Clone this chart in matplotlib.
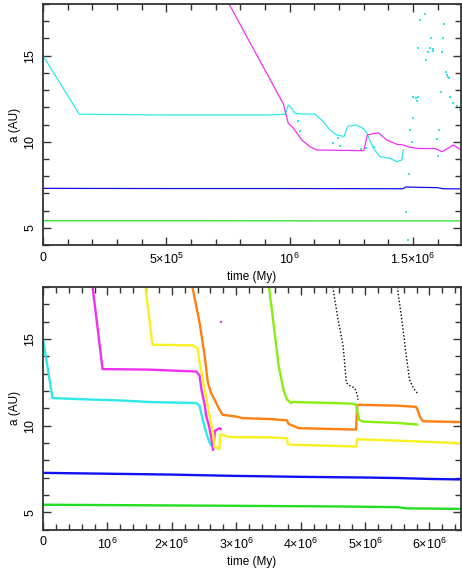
import numpy as np
import matplotlib
matplotlib.use("Agg")
import matplotlib.pyplot as plt
from matplotlib.ticker import MultipleLocator

plt.rcParams['font.family'] = ['Liberation Sans', 'DejaVu Sans']
plt.rcParams['mathtext.fontset'] = 'custom'
plt.rcParams['mathtext.rm'] = 'Liberation Sans'
plt.rcParams['mathtext.default'] = 'regular'

# times in units of 1e6, a in AU
# --- top panel ---
top_green_t = [0.0, 0.6, 1.2, 1.69]
top_green_a = [5.41, 5.41, 5.40, 5.40]

top_blue_t = [0.0, 0.5, 1.0, 1.46, 1.47, 1.52, 1.60, 1.62, 1.69]
top_blue_a = [7.29, 7.28, 7.28, 7.27, 7.37, 7.35, 7.33, 7.27, 7.26]

top_cyan_t = [0.0, 0.147, 0.5, 0.92, 0.981, 0.994, 1.005, 1.021, 1.049, 1.103, 1.136,
              1.163, 1.19, 1.22, 1.235, 1.27, 1.30, 1.312, 1.339, 1.366, 1.407, 1.434,
              1.454, 1.46]
top_cyan_a = [15.0, 11.6, 11.55, 11.55, 11.6, 12.13, 12.0, 11.65, 11.61, 11.6, 11.16,
              10.68, 10.39, 10.3, 10.9, 10.97, 10.75, 10.5, 9.61, 9.13, 9.03, 8.84,
              8.94, 9.52]

top_cyan_dots_t = [1.548, 1.528, 1.627, 1.573, 1.623, 1.521, 1.569, 1.580, 1.559, 1.582,
                   1.616, 1.553, 1.632, 1.639, 1.643, 1.647, 1.612, 1.501, 1.517, 1.650,
                   1.661, 1.677, 1.690, 1.501, 1.488, 1.606, 1.596, 1.494, 1.602, 1.484,
                   1.471, 1.478, 1.511, 1.520, 1.175, 1.195, 1.205, 1.29, 1.31, 1.34,
                   1.035, 1.040]
top_cyan_dots_a = [17.40, 17.07, 16.84, 16.04, 16.0, 15.43, 15.43, 15.39, 15.23, 15.29,
                   15.23, 14.75, 14.07, 13.87, 13.78, 13.68, 12.9, 12.61, 12.38, 12.61,
                   12.23, 12.07, 11.84, 11.36, 10.68, 10.68, 10.14, 10.0, 9.17, 8.12,
                   5.93, 4.29, 12.52, 12.61, 9.95, 10.2, 9.75, 9.6, 9.62, 9.7,
                   11.2, 10.6]

top_mag_t = [0.754, 0.974, 0.994, 1.015, 1.049, 1.082, 1.109, 1.2, 1.3, 1.315, 1.359,
             1.393, 1.434, 1.46, 1.488, 1.52, 1.59, 1.616, 1.64, 1.663, 1.69]
top_mag_a = [18.0, 12.2, 11.07, 10.78, 10.1, 9.71, 9.52, 9.5, 9.48, 10.4, 10.52,
             10.1, 9.85, 9.81, 9.67, 9.61, 9.6, 9.42, 9.6, 9.81, 9.56]

# --- bottom panel ---
bot_green_t = [0.0, 2.9, 4.6, 5.5, 5.65, 6.49]
bot_green_a = [5.43, 5.37, 5.33, 5.29, 5.22, 5.19]

bot_blue_t = [0.0, 1.0, 2.0, 2.9, 4.0, 5.0, 5.5, 6.0, 6.49]
bot_blue_a = [7.27, 7.22, 7.17, 7.10, 7.04, 7.0, 6.97, 6.92, 6.89]

bot_cyan_t = [0.0, 0.148, 0.6, 1.2, 1.65, 2.38, 2.43, 2.48, 2.53, 2.58, 2.61]
bot_cyan_a = [15.0, 11.59, 11.52, 11.45, 11.36, 11.3, 11.15, 10.33, 9.65, 9.07, 8.88]

bot_mag_t = [0.77, 0.925, 1.2, 1.65, 2.38, 2.43, 2.46, 2.51, 2.53, 2.58, 2.61, 2.64,
             2.67, 2.74, 2.76]
bot_mag_a = [18.0, 13.26, 13.25, 13.23, 13.12, 12.9, 12.08, 11.2, 10.62, 9.94, 9.36,
             8.59, 9.7, 9.85, 9.8]
bot_mag_dot_t = [2.77]
bot_mag_dot_a = [15.97]

bot_yel_t = [1.59, 1.70, 2.33, 2.40, 2.43, 2.48, 2.53, 2.58, 2.61, 2.64, 2.66, 2.71,
             2.74, 2.75, 2.9, 3.52, 3.79, 3.80, 3.83, 4.86, 4.88, 5.5, 6.49]
bot_yel_a = [18.0, 14.67, 14.63, 14.44, 13.67, 12.7, 11.69, 10.72, 10.14, 9.56, 8.78,
             8.69, 8.65, 9.5, 9.33, 9.32, 9.27, 8.94, 8.9, 8.79, 9.21, 9.13, 8.98]

bot_orange_t = [2.32, 2.43, 2.51, 2.56, 2.61, 2.69, 2.74, 2.79, 3.0, 3.1, 3.52, 3.79,
                3.81, 3.97, 4.86, 4.88, 5.5, 5.79, 5.81, 5.85, 5.9, 6.49]
bot_orange_a = [18.0, 15.97, 14.03, 12.47, 11.88, 11.3, 10.91, 10.62, 10.52, 10.43,
                10.38, 10.3, 10.1, 9.85, 9.77, 11.2, 11.15, 11.08, 10.95, 10.52,
                10.25, 10.2]

bot_lime_t = [3.51, 3.59, 3.66, 3.74, 3.79, 3.85, 3.88, 4.5, 4.81, 4.86, 4.88, 4.91,
              4.97, 5.5, 5.81]
bot_lime_a = [18.0, 15.56, 13.43, 11.98, 11.5, 11.3, 11.36, 11.3, 11.26, 11.2, 10.81,
              10.33, 10.23, 10.15, 10.06]

bot_black1_t = [4.5, 4.58, 4.66, 4.71, 4.76, 4.84, 4.88, 4.89]
bot_black1_a = [18.0, 16.14, 14.59, 12.47, 12.31, 12.17, 11.78, 11.49]
bot_black2_t = [5.5, 5.57, 5.64, 5.69, 5.75, 5.81]
bot_black2_a = [18.0, 16.14, 14.03, 12.65, 12.17, 11.88]

top_xticks = [0, 5e5, 1e6, 1.5e6]
top_xlabels = ['0', '5×10$^5$', '10$^6$', '1.5×10$^6$']
bot_xticks = [0, 1e6, 2e6, 3e6, 4e6, 5e6, 6e6]
bot_xlabels = ['0', '10$^6$', '2×10$^6$', '3×10$^6$', '4×10$^6$', '5×10$^6$', '6×10$^6$']
yticks = [5, 10, 15]

C_GREEN = '#22dd22'
C_BLUE = '#1010f0'
C_CYAN = '#30e8e8'
C_MAG = '#f030f0'
C_YEL = '#f8f020'
C_ORANGE = '#ff8010'
C_LIME = '#88ee10'

fig = plt.figure(figsize=(4.62, 5.74), dpi=100)
ax1 = fig.add_axes([43/462, 1-245/574, 418/462, 241/574])
ax2 = fig.add_axes([43/462, 1-529.5/574, 418/462, 242.5/574])

def T(t):
    return np.array(t) * 1e6

lw1 = 0.9
ax1.plot(T(top_green_t), top_green_a, color=C_GREEN, lw=lw1)
ax1.plot(T(top_blue_t), top_blue_a, color=C_BLUE, lw=lw1)
ax1.plot(T(top_cyan_t), top_cyan_a, color=C_CYAN, lw=lw1)
ax1.plot(T(top_mag_t), top_mag_a, color=C_MAG, lw=lw1)
ax1.scatter(T(top_cyan_dots_t), top_cyan_dots_a, color=C_CYAN, s=2, marker='s', lw=0)

lw2 = 1.7
ax2.plot(T(bot_green_t), bot_green_a, color=C_GREEN, lw=lw2)
ax2.plot(T(bot_blue_t), bot_blue_a, color=C_BLUE, lw=lw2)
ax2.plot(T(bot_cyan_t), bot_cyan_a, color=C_CYAN, lw=lw2)
ax2.plot(T(bot_mag_t), bot_mag_a, color=C_MAG, lw=lw2)
ax2.plot(T(bot_yel_t), bot_yel_a, color=C_YEL, lw=lw2)
ax2.plot(T(bot_orange_t), bot_orange_a, color=C_ORANGE, lw=lw2)
ax2.plot(T(bot_lime_t), bot_lime_a, color=C_LIME, lw=lw2)
ax2.plot(T(bot_black1_t), bot_black1_a, color='black', lw=1.0, ls=(0, (1, 1.5)))
ax2.plot(T(bot_black2_t), bot_black2_a, color='black', lw=1.0, ls=(0, (1, 1.5)))
ax2.scatter(T(bot_mag_dot_t), bot_mag_dot_a, color=C_MAG, s=3, marker='s', lw=0)

for ax, xmax, xt, xl, xminor in [(ax1, 1.694e6, top_xticks, top_xlabels, 1e5),
                                 (ax2, 6.49e6, bot_xticks, bot_xlabels, 2e5)]:
    ax.set_xlim(0, xmax)
    ax.set_ylim(4, 18)
    ax.set_xticks(xt, xl)
    ax.xaxis.set_minor_locator(MultipleLocator(xminor))
    ax.set_yticks(yticks, [str(v) for v in yticks])
    ax.yaxis.set_minor_locator(MultipleLocator(1))
    ax.tick_params(which='both', direction='in', top=True, right=True,
                   color='#333333', width=1.0, labelsize=9, pad=5)
    ax.tick_params(which='major', length=6)
    ax.tick_params(which='minor', length=4)
    for lab in ax.get_yticklabels():
        lab.set_rotation(90)
        lab.set_va('center')
    for s in ax.spines.values():
        s.set_color('#333333')
        s.set_linewidth(1.3)
    ax.set_xlabel('time (My)', fontsize=8.5, labelpad=3)
    ax.set_ylabel('a (AU)', fontsize=8.5, labelpad=2)

fig.savefig('out.png', dpi=100)
